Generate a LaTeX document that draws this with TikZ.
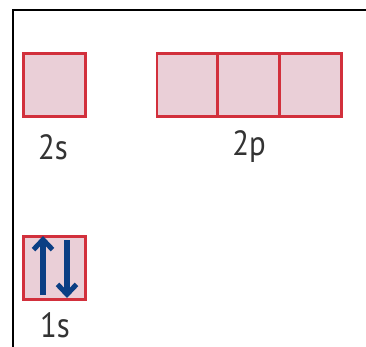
\documentclass[tikz,border=0pt]{standalone}
\usepackage{fontspec}
\setmainfont{PT Sans}[FakeStretch=0.88]
\usetikzlibrary{arrows.meta}
\definecolor{boxfill}{HTML}{EACFD7}
\definecolor{boxline}{HTML}{D2303C}
\definecolor{spin}{HTML}{0B3F84}
\definecolor{lbl}{HTML}{333333}
\begin{document}
\begin{tikzpicture}[x=1pt,y=-1pt,
  orb/.style={draw=boxline,fill=boxfill,line width=2.8pt,minimum width=62pt,minimum height=63pt,inner sep=0pt,outer sep=0pt},
  lab/.style={text=lbl,font=\fontsize{35}{35}\selectfont,inner sep=0pt},
  spinarrow/.style={draw=spin,line width=5.5pt,-{Straight Barb[length=10pt,width=19pt,line width=5pt]}}]
\useasboundingbox (0,0) rectangle (366,347);
\draw[line width=2pt] (12.5,350) -- (12.5,10.5) -- (370,10.5);
\node[orb] (s2) at (54.5,85) {};
\node[orb] (p1) at (188,85) {};
\node[orb] (p2) at (248.5,85) {};
\node[orb] (p3) at (310.5,85) {};
\node[orb] (s1) at (54.5,268) {};
\node[lab] (l2s) at (53,147) {2s};
\node[lab] (l2p) at (249,147) {2p};
\node[lab] (l1s) at (55,325) {1s};
\coordinate (ua) at (43,295);
\coordinate (ub) at (43,236);
\coordinate (da) at (67,240);
\coordinate (db) at (67,298);
\draw[spinarrow] (ua) -- (ub);
\draw[spinarrow] (da) -- (db);
\end{tikzpicture}
\end{document}
